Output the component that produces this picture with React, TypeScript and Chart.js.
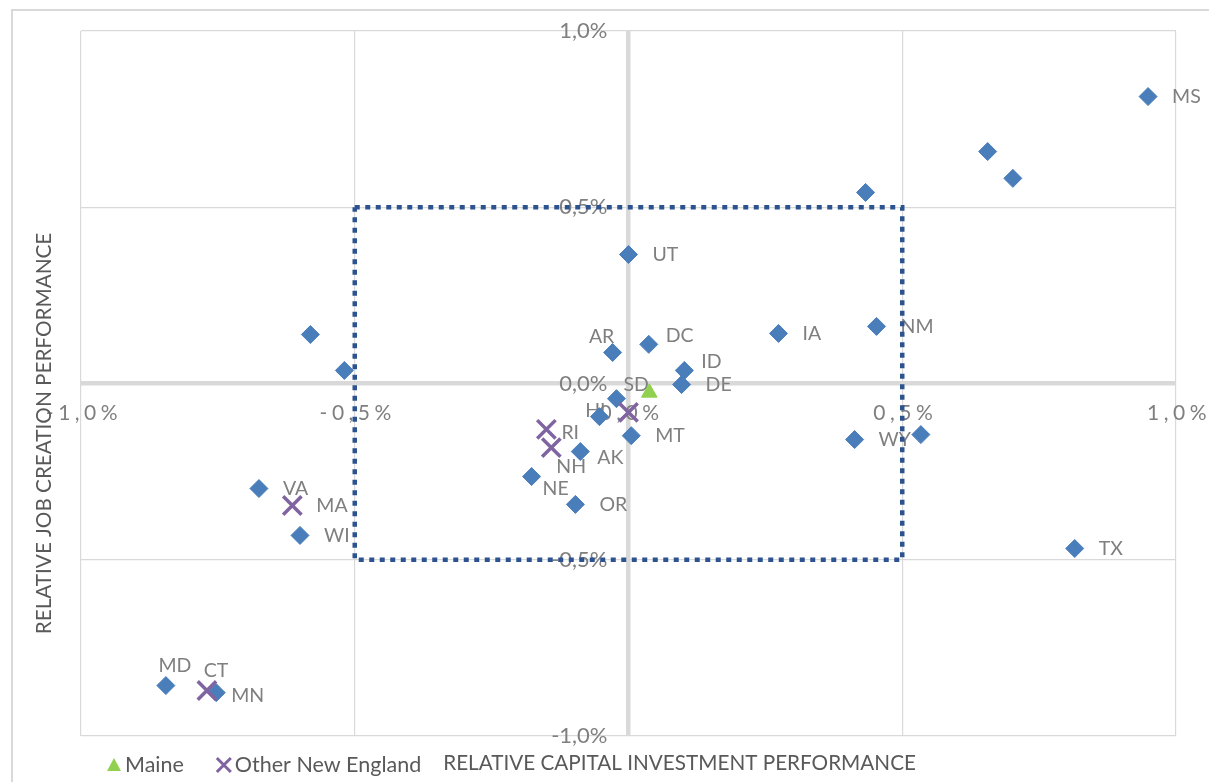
import React, { useEffect, useRef } from 'react';
import { Chart, registerables } from 'chart.js';

Chart.register(...registerables);

// ---- Data (values in %) ----
const stateNames = ['MS', '', '', '', 'UT', 'IA', 'NM', 'AR', 'DC', 'ID', 'DE', 'SD', 'HI', 'MT', 'AK', 'NE', 'OR', 'WY', '', 'TX', '', '', 'VA', 'WI', 'MD', 'MN'];
const stateCapital = [0.949, 0.656, 0.702, 0.433, 0.0, 0.274, 0.453, -0.029, 0.037, 0.102, 0.097, -0.022, -0.053, 0.005, -0.088, -0.177, -0.097, 0.413, 0.534, 0.815, -0.581, -0.519, -0.675, -0.600, -0.845, -0.753];
const stateJobs = [0.814, 0.658, 0.582, 0.542, 0.366, 0.142, 0.162, 0.088, 0.111, 0.037, -0.003, -0.043, -0.094, -0.148, -0.193, -0.264, -0.343, -0.159, -0.145, -0.468, 0.139, 0.037, -0.298, -0.431, -0.857, -0.877];
const stateLabelPlacement = ['right', 'right', 'right', 'right', 'right', 'right', 'right', 'aboveLeft', 'rightUp', 'rightUp', 'right', 'aboveRight', 'over', 'right', 'rightDown', 'belowRight', 'right', 'right', 'right', 'right', 'right', 'right', 'right', 'right', 'above', 'rightNear'];

const maineCapital = [0.038];
const maineJobs = [-0.026];

const otherNames = ['', 'RI', 'NH', 'MA', 'CT'];
const otherCapital = [0.0, -0.150, -0.141, -0.614, -0.770];
const otherJobs = [-0.082, -0.130, -0.182, -0.346, -0.871];
const otherLabelPlacement = ['right', 'rightNear', 'below', 'right', 'above'];

const boxCapital = [-0.5, 0.5, 0.5, -0.5, -0.5];
const boxJobs = [0.5, 0.5, -0.5, -0.5, 0.5];

const tickValues = [-1, -0.5, 0, 0.5, 1];
const xTitle = 'RELATIVE CAPITAL INVESTMENT PERFORMANCE';
const yTitle = 'RELATIVE JOB CREATION PERFORMANCE';

const FONT = 'Lato, "Noto Sans", sans-serif';
const fmt = (v: number) => (v < 0 ? '-' : '') + Math.abs(v).toFixed(1).replace('.', ',') + '%';

const placements: Record<string, { dx: number; dy: number; align: CanvasTextAlign }> = {
  right: { dx: 24, dy: 0, align: 'left' },
  rightUp: { dx: 17, dy: -9, align: 'left' },
  rightDown: { dx: 17, dy: 6, align: 'left' },
  rightNear: { dx: 15, dy: 3, align: 'left' },
  above: { dx: 9, dy: -20, align: 'center' },
  aboveLeft: { dx: -11, dy: -16, align: 'center' },
  aboveRight: { dx: 7, dy: -14, align: 'left' },
  belowRight: { dx: 11, dy: 12, align: 'left' },
  below: { dx: 5, dy: 19, align: 'left' },
  over: { dx: 6, dy: -6, align: 'right' },
};

const overlayPlugin = {
  id: 'overlay',
  beforeDraw(chart: any) {
    const ctx = chart.ctx;
    ctx.save();
    ctx.fillStyle = '#ffffff';
    ctx.fillRect(0, 0, chart.width, chart.height);
    ctx.strokeStyle = '#d9d9d9';
    ctx.lineWidth = 2;
    ctx.strokeRect(12, 10, chart.width + 20, chart.height + 20);
    ctx.restore();
  },
  beforeDatasetsDraw(chart: any) {
    const ctx = chart.ctx;
    const xs = chart.scales.x;
    const ys = chart.scales.y;
    const x0 = xs.getPixelForValue(0);
    const y0 = ys.getPixelForValue(0);
    ctx.save();
    ctx.fillStyle = '#7f7f7f';
    // y tick labels
    ctx.font = `22px ${FONT}`;
    ctx.textAlign = 'right';
    ctx.textBaseline = 'middle';
    tickValues.forEach((v) => ctx.fillText(fmt(v), x0 - 21, ys.getPixelForValue(v)));
    // x tick labels
    ctx.font = `21px ${FONT}`;
    ctx.textAlign = 'center';
    (ctx as any).letterSpacing = '4.5px';
    tickValues.forEach((v) => ctx.fillText(fmt(v), xs.getPixelForValue(v) + 3, y0 + 30));
    (ctx as any).letterSpacing = '0px';
    // data labels
    ctx.font = `19.5px ${FONT}`;
    const drawLabels = (names: string[], xv: number[], yv: number[], pl: string[]) => {
      names.forEach((n, i) => {
        if (!n) return;
        const p = placements[pl[i]] || placements.right;
        ctx.textAlign = p.align;
        ctx.fillText(n, xs.getPixelForValue(xv[i]) + p.dx, ys.getPixelForValue(yv[i]) + p.dy);
      });
    };
    drawLabels(stateNames, stateCapital, stateJobs, stateLabelPlacement);
    drawLabels(otherNames, otherCapital, otherJobs, otherLabelPlacement);
    ctx.restore();
  },
  afterDraw(chart: any) {
    const ctx = chart.ctx;
    const area = chart.chartArea;
    ctx.save();
    // legend
    const ly = 765;
    let lx = 105;
    ctx.font = `21.5px ${FONT}`;
    ctx.textBaseline = 'middle';
    ctx.textAlign = 'left';
    const items = chart.data.datasets.filter((d: any) => d.inLegend);
    items.forEach((d: any) => {
      const style = d.pointStyle;
      ctx.fillStyle = d.pointBackgroundColor;
      ctx.strokeStyle = d.pointBorderColor;
      if (style === 'triangle') {
        ctx.beginPath();
        ctx.moveTo(lx + 9, ly - 7);
        ctx.lineTo(lx + 16, ly + 6);
        ctx.lineTo(lx + 2, ly + 6);
        ctx.closePath();
        ctx.fill();
      } else {
        ctx.lineWidth = 3;
        ctx.beginPath();
        ctx.moveTo(lx + 2, ly - 7);
        ctx.lineTo(lx + 16, ly + 7);
        ctx.moveTo(lx + 16, ly - 7);
        ctx.lineTo(lx + 2, ly + 7);
        ctx.stroke();
      }
      ctx.fillStyle = '#595959';
      ctx.fillText(d.label, lx + 20, ly);
      lx += 20 + ctx.measureText(d.label).width + 31;
    });
    // x title
    ctx.font = `20.7px ${FONT}`;
    ctx.fillStyle = '#595959';
    ctx.fillText(xTitle, lx - 9, ly - 2);
    // y title
    ctx.translate(area.left - 37, (area.top + area.bottom) / 2 + 50);
    ctx.rotate(-Math.PI / 2);
    ctx.textAlign = 'center';
    ctx.fillText(yTitle, 0, 0);
    ctx.restore();
  },
};

export default function App() {
  const ref = useRef<HTMLCanvasElement | null>(null);
  useEffect(() => {
    document.body.style.margin = '0';
    document.body.style.overflow = 'hidden';
    const canvas = ref.current!;
    const toPts = (xv: number[], yv: number[]) => xv.map((x, i) => ({ x, y: yv[i] }));
    const chart = new Chart(canvas, {
      type: 'scatter',
      data: {
        datasets: [
          {
            label: 'box',
            type: 'line',
            data: toPts(boxCapital, boxJobs),
            showLine: true,
            borderColor: '#2c538f',
            borderWidth: 4.5,
            borderDash: [5, 5.5],
            pointRadius: 0,
            fill: false,
            order: -1,
          } as any,
          {
            label: 'Maine',
            inLegend: true,
            data: toPts(maineCapital, maineJobs),
            pointStyle: 'triangle',
            pointRadius: 9,
            pointBackgroundColor: '#92d050',
            pointBorderColor: '#92d050',
            pointBorderWidth: 1,
            order: 0,
          } as any,
          {
            label: 'Other New England',
            inLegend: true,
            data: toPts(otherCapital, otherJobs),
            pointStyle: 'crossRot',
            pointRadius: 13,
            pointBackgroundColor: '#8064a2',
            pointBorderColor: '#8064a2',
            pointBorderWidth: 3.5,
            order: 1,
          } as any,
          {
            label: 'States',
            data: toPts(stateCapital, stateJobs),
            pointStyle: 'rectRot',
            pointRadius: 9,
            pointBackgroundColor: '#4a7ebb',
            pointBorderColor: '#4a7ebb',
            pointBorderWidth: 1,
            order: 2,
          } as any,
        ],
      },
      options: {
        responsive: false,
        animation: false,
        layout: { padding: { left: 81, top: 31, right: 33, bottom: 46 } },
        plugins: { legend: { display: false }, tooltip: { enabled: false } },
        scales: {
          x: {
            type: 'linear',
            min: -1,
            max: 1,
            ticks: { stepSize: 0.5, display: false },
            border: { display: false },
            grid: {
              drawTicks: false,
              color: '#d9d9d9',
              lineWidth: (c: any) => (c.tick && c.tick.value === 0 ? 4.5 : 1.2),
            },
          },
          y: {
            type: 'linear',
            min: -1,
            max: 1,
            ticks: { stepSize: 0.5, display: false },
            border: { display: false },
            grid: {
              drawTicks: false,
              color: '#d9d9d9',
              lineWidth: (c: any) => (c.tick && c.tick.value === 0 ? 4.5 : 1.2),
            },
          },
        },
      },
      plugins: [overlayPlugin],
    });
    return () => chart.destroy();
  }, []);
  return <canvas ref={ref} width={1209} height={782} style={{ display: 'block' }} />;
}
